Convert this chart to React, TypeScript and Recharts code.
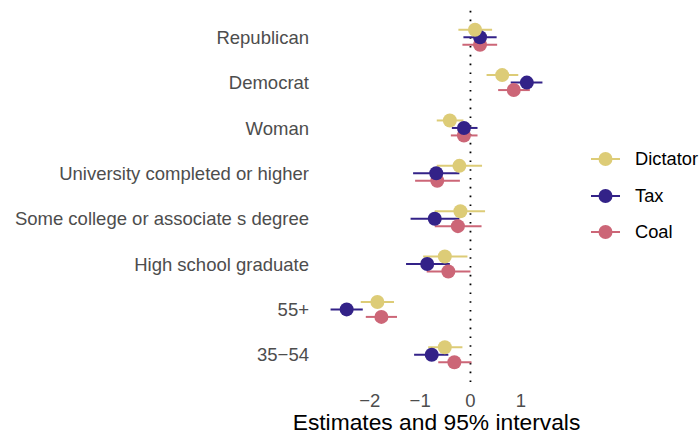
import { ScatterChart, Scatter, XAxis, YAxis, ErrorBar, ReferenceLine, Legend, Label } from 'recharts';

const categories = [
  'Republican',
  'Democrat',
  'Woman',
  'University completed or higher',
  'Some college or associate s degree',
  'High school graduate',
  '55+',
  '35\u221254',
];

const dictatorEst = [0.09, 0.63, -0.41, -0.22, -0.2, -0.51, -1.85, -0.51];
const dictatorLo = [-0.24, 0.32, -0.67, -0.67, -0.71, -0.94, -2.18, -0.84];
const dictatorHi = [0.43, 0.95, -0.14, 0.23, 0.29, -0.06, -1.52, -0.16];

const taxEst = [0.19, 1.12, -0.13, -0.68, -0.71, -0.86, -2.46, -0.77];
const taxLo = [-0.14, 0.8, -0.37, -1.14, -1.19, -1.28, -2.78, -1.12];
const taxHi = [0.52, 1.43, 0.14, -0.22, -0.22, -0.41, -2.14, -0.44];

const coalEst = [0.19, 0.86, -0.13, -0.66, -0.25, -0.44, -1.77, -0.32];
const coalLo = [-0.16, 0.55, -0.39, -1.1, -0.71, -0.87, -2.08, -0.64];
const coalHi = [0.53, 1.18, 0.14, -0.21, 0.22, 0.0, -1.46, 0.02];

const xTicks = [-2, -1, 0, 1];

const FONT = '"Liberation Sans", Arial, Helvetica, sans-serif';
const DODGE = 0.165;

// legend order; drawn in reverse so Dictator sits on top
const SERIES = [
  { name: 'Dictator', color: '#DDCC77', est: dictatorEst, lo: dictatorLo, hi: dictatorHi, shift: -DODGE },
  { name: 'Tax', color: '#332288', est: taxEst, lo: taxLo, hi: taxHi, shift: 0 },
  { name: 'Coal', color: '#CC6677', est: coalEst, lo: coalLo, hi: coalHi, shift: DODGE },
];

const toRows = (s: (typeof SERIES)[number]) =>
  s.est.map((v, i) => ({ x: v, y: i + s.shift, err: [v - s.lo[i], s.hi[i] - v] }));

const fmtNum = (v: number) => (v < 0 ? `\u2212${Math.abs(v)}` : `${v}`);

function YTick({ x, y, payload }: any) {
  return (
    <text x={x - 3} y={y} dy="0.36em" textAnchor="end" fill="#4D4D4D" fontSize={18.5} fontFamily={FONT}>
      {categories[payload.value]}
    </text>
  );
}

function XTick({ x, y, payload }: any) {
  return (
    <text x={x} y={y + 17} textAnchor="middle" fill="#4D4D4D" fontSize={18.5} fontFamily={FONT}>
      {fmtNum(payload.value)}
    </text>
  );
}

function KeyList() {
  return (
    <div style={{ fontFamily: FONT }}>
      {SERIES.map(s => (
        <div key={s.name} style={{ display: 'flex', alignItems: 'center', height: 36.5 }}>
          <svg width={29} height={16}>
            <line x1={0} x2={29} y1={8} y2={8} stroke={s.color} strokeWidth={2} />
            <circle cx={14.5} cy={8} r={7} fill={s.color} />
          </svg>
          <span style={{ marginLeft: 15, fontSize: 18.3, color: '#000' }}>{s.name}</span>
        </div>
      ))}
    </div>
  );
}

export default function App() {
  return (
    <div style={{ position: 'absolute', left: 0, top: 0, width: 700, height: 435, background: '#fff' }}>
      <ScatterChart width={700} height={435} margin={{ top: 10, right: 147, bottom: 0, left: 0 }}>
        <XAxis
          type="number"
          dataKey="x"
          domain={[-2.99, 1.64]}
          ticks={xTicks}
          axisLine={false}
          tickLine={false}
          height={53}
          tick={<XTick />}
        >
          <Label
            value="Estimates and 95% intervals"
            position="insideBottom"
            offset={5.5}
            fill="#000"
            fontSize={22.8}
            fontFamily={FONT}
          />
        </XAxis>
        <YAxis
          type="number"
          dataKey="y"
          domain={[-0.6, 7.6]}
          ticks={categories.map((_, i) => i)}
          reversed
          axisLine={false}
          tickLine={false}
          width={320}
          tick={<YTick />}
        />
        <ReferenceLine x={0} stroke="#000" strokeWidth={1.8} strokeDasharray="1.6 7.2" />
        {[...SERIES].reverse().map(s => (
          <Scatter
            key={s.name}
            name={s.name}
            data={toRows(s)}
            fill={s.color}
            isAnimationActive={false}
            shape={(p: any) => <circle cx={p.cx} cy={p.cy} r={7} fill={s.color} />}
          >
            <ErrorBar dataKey="err" direction="x" width={0} stroke={s.color} strokeWidth={2} />
          </Scatter>
        ))}
        <Legend
          layout="vertical"
          align="center"
          verticalAlign="middle"
          wrapperStyle={{ left: 591, top: 141, width: 109 }}
          content={() => <KeyList />}
        />
      </ScatterChart>
    </div>
  );
}
